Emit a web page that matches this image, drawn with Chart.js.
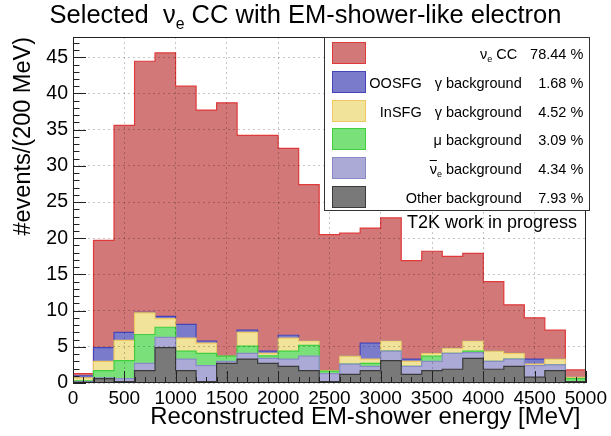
<!DOCTYPE html>
<html>
<head>
<meta charset="utf-8">
<script src="https://cdn.jsdelivr.net/npm/chart.js@4.4.1/dist/chart.umd.min.js"></script>
<style>
  body { margin: 0; background: #fff; }
  #wrap { position: relative; width: 611px; height: 436px; font-family: "Liberation Sans", Arial, Helvetica, sans-serif; color: #000; }
  #wrap canvas { position: absolute; left: 0; top: 0; }
  .t { position: absolute; white-space: nowrap; line-height: 1; }
  sub { font-size: 62%; vertical-align: -0.37em; line-height: 0; }
  .ov { text-decoration: overline; }
  #legend { position: absolute; left: 324px; top: 37px; width: 266px; height: 174px; border: 1px solid #333; background: #fff; box-sizing: border-box; }
  .sw { position: absolute; width: 34px; height: 22px; box-sizing: border-box; border: 1px solid; }
</style>
</head>
<body>
<div id="wrap">
  <canvas id="histo" width="611" height="436"></canvas>
  <div class="t" style="left:0;width:611px;text-align:center;top:1.7px;font-size:25.5px">Selected&nbsp; ν<sub>e</sub> CC with EM-shower-like electron</div>
  <div class="t" style="right:30.5px;top:404.4px;font-size:23.9px">Reconstructed EM-shower energy [MeV]</div>
  <div id="legend"></div>
  <div class="t" style="right:34px;top:213px;font-size:18px">T2K work in progress</div>
</div>
<script>
// bins of 200 MeV, lower edges
const binLow = [0, 200, 400, 600, 800, 1000, 1200, 1400, 1600, 1800, 2000, 2200, 2400,
                2600, 2800, 3000, 3200, 3400, 3600, 3800, 4000, 4200, 4400, 4600, 4800];
const binWidth = 200;
const xTickValues = [0, 500, 1000, 1500, 2000, 2500, 3000, 3500, 4000, 4500, 5000];
const yTickValues = [0, 5, 10, 15, 20, 25, 30, 35, 40, 45];

// events per bin, per sample
const nueCC    = [0.3, 14.8, 28.6, 34.7, 36.4, 32.9, 31.9, 35.0, 26.9, 29.8, 25.8, 21.6, 18.8,
                  17.0, 15.9, 17.0, 13.6, 14.1, 12.7, 12.1, 9.6, 6.7, 5.7, 4.0, 1.0];
const oosfgBkg = [0.3, 1.9, 1.1, 0.05, 0.3, 1.9, 0.3, 0, 0.3, 0.3, 0.4, 0, 0,
                  0, 2.2, 0, 0.3, 0, 0, 0, 0, 0, 0.7, 0, 0];
const insfgBkg = [0.4, 1.3, 2.8, 3.0, 1.2, 1.8, 1.4, 0, 1.9, 0.35, 1.8, 0.6, 0.05,
                  1.1, 0.6, 1.4, 0.7, 0.4, 0.7, 1.4, 1.4, 0.8, 0.2, 0.8, 0.2];
const muBkg    = [0.1, 1.0, 2.5, 4.0, 1.4, 1.1, 1.7, 0.7, 1.0, 0.35, 1.1, 1.5, 0.35,
                  0, 0.4, 0, 0, 0.7, 0, 0.2, 0, 0, 0, 0, 0.4];
const nuebarBkg = [0.1, 0.1, 0.4, 1.0, 1.4, 1.6, 2.2, 0.3, 0.8, 0.7, 1.0, 2.0, 1.1,
                   1.4, 0.6, 1.3, 1.1, 1.3, 2.2, 0.8, 1.1, 1.0, 1.6, 0.8, 0];
const otherBkg = [0.1, 0.6, 0.2, 1.7, 4.9, 1.7, 0.2, 2.7, 3.3, 2.7, 2.3, 1.7, 0.2,
                  1.2, 1.7, 3.1, 1.2, 1.7, 1.9, 3.4, 1.9, 2.3, 0.8, 1.7, 0.2];

// legend texts (top to bottom)
const seriesPrefix = ['', 'OOSFG', 'InSFG', '', '', ''];
const seriesLabels = ['ν<sub>e</sub> CC', 'γ background', 'γ background', 'μ background',
                      '<span class="ov">ν</span><sub>e</sub> background', 'Other background'];
const seriesShares = ['78.44 %', '1.68 %', '4.52 %', '3.09 %', '4.34 %', '7.93 %'];

const FONT = '"Liberation Sans", Arial, Helvetica, sans-serif';

const series = [
    { data: nueCC,     fill: '#d27878', line: '#e03a3a' },
    { data: oosfgBkg,  fill: '#7b7bcc', line: '#4545b8' },
    { data: insfgBkg,  fill: '#f2e39b', line: '#f0c860' },
    { data: muBkg,     fill: '#7ae07a', line: '#3fcf3f' },
    { data: nuebarBkg, fill: '#abaad6', line: '#8a8ac6' },
    { data: otherBkg,  fill: '#797979', line: '#3a3a3a' }
];

// histogram as stepped line: one point per lower edge + closing upper edge
function toSteps(values) {
    const pts = binLow.map((e, i) => ({ x: e, y: values[i] }));
    pts.push({ x: binLow[binLow.length - 1] + binWidth, y: values[values.length - 1] });
    return pts;
}

// stack goes bottom -> top, so reverse the legend order
const datasets = series.slice().reverse().map((s, k) => ({
    data: toSteps(s.data),
    stepped: true,
    fill: k === 0 ? 'origin' : '-1',
    backgroundColor: s.fill,
    borderColor: s.line,
    borderWidth: 1.2,
    pointRadius: 0
}));

// ROOT style frame with inner ticks
const frameTicks = {
    id: 'frameTicks',
    afterDraw(chart) {
        const { ctx, chartArea: a, scales: { x, y } } = chart;
        ctx.save();
        ctx.strokeStyle = '#222';
        ctx.lineWidth = 1;
        ctx.beginPath();
        for (let v = 0; v <= 5000; v += 100) {
            const px = Math.round(x.getPixelForValue(v)) + 0.5;
            const len = v % 500 === 0 ? 12 : 6;
            ctx.moveTo(px, a.bottom);
            ctx.lineTo(px, a.bottom - len);
        }
        for (let v = 0; v <= 47; v++) {
            const py = Math.round(y.getPixelForValue(v)) + 0.5;
            const len = v % 5 === 0 ? 13 : 6.5;
            ctx.moveTo(a.left, py);
            ctx.lineTo(a.left + len, py);
        }
        ctx.stroke();
        ctx.strokeRect(Math.round(a.left) + 0.5, Math.round(a.top) + 0.5,
                       Math.round(a.width) - 1, Math.round(a.height) - 1);
        ctx.restore();
    }
};

const gridOpts = { color: 'rgba(0,0,0,0.22)', drawTicks: false, offset: false, z: 1 };

new Chart(document.getElementById('histo'), {
    type: 'line',
    data: { datasets: datasets },
    options: {
        responsive: false,
        animation: false,
        layout: { padding: { top: 37, right: 22, left: 0, bottom: 0 } },
        plugins: { legend: { display: false }, tooltip: { enabled: false } },
        scales: {
            x: {
                type: 'linear', min: 0, max: 5000, offset: false,
                afterBuildTicks: s => { s.ticks = xTickValues.map(v => ({ value: v })); },
                afterFit: s => { s.height = 53; },
                grid: gridOpts,
                border: { display: false, dash: [2, 3] },
                ticks: { autoSkip: false, maxRotation: 0, padding: 4, color: '#000',
                         font: { family: FONT, size: 19 }, callback: v => String(v) }
            },
            y: {
                min: 0, max: 47.8, stacked: true,
                afterBuildTicks: s => { s.ticks = yTickValues.map(v => ({ value: v })); },
                afterFit: s => { s.width = 73; },
                grid: gridOpts,
                border: { display: false, dash: [2, 3] },
                ticks: { padding: 5, color: '#000', font: { family: FONT, size: 19.5 },
                         callback: v => String(v) },
                title: { display: true, text: '#events/(200 MeV)', align: 'end',
                         color: '#000', font: { family: FONT, size: 23.5 }, padding: { top: 9, bottom: 0 } }
            }
        }
    },
    plugins: [frameTicks]
});

// legend box, ROOT TLegend look
const wrap = document.getElementById('wrap');
function addText(html, right, baseline, size) {
    const d = document.createElement('div');
    d.className = 't';
    d.style.right = (611 - right) + 'px';
    d.style.top = (baseline - 0.8465 * size) + 'px';
    d.style.fontSize = size + 'px';
    d.innerHTML = html;
    wrap.appendChild(d);
}
series.forEach((s, i) => {
    const mid = 53.3 + 28.7 * i;
    const sw = document.createElement('div');
    sw.className = 'sw';
    sw.style.left = '332px';
    sw.style.top = (mid - 11) + 'px';
    sw.style.background = s.fill;
    sw.style.borderColor = s.line;
    wrap.appendChild(sw);
    const base = mid + 6.1;
    if (seriesPrefix[i]) addText(seriesPrefix[i], 421.7, base, 14.5);
    addText(seriesLabels[i], i === 0 ? 517.3 : 521.7, base, 14.5);
    addText(seriesShares[i], 583.3, base, 14.5);
});
</script>
</body>
</html>
